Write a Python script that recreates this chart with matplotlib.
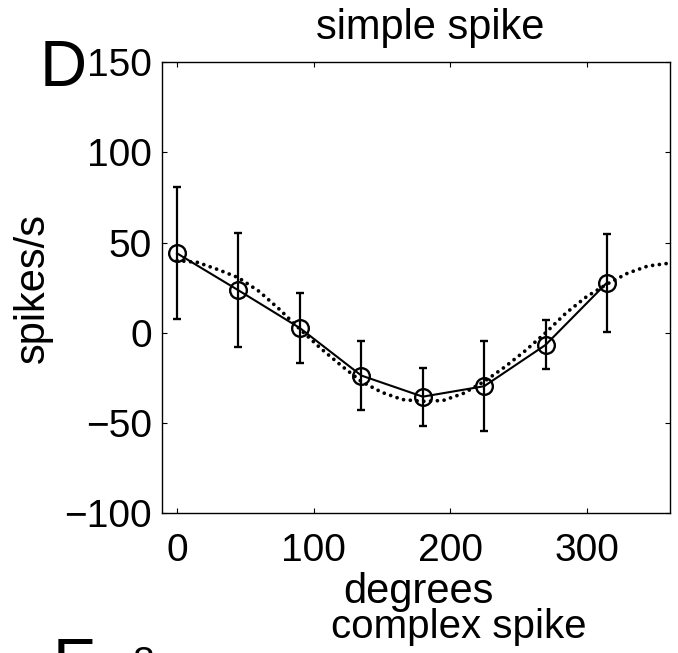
import matplotlib
matplotlib.use("Agg")
import matplotlib.pyplot as plt

plt.rcParams["font.family"] = ["Liberation Sans", "DejaVu Sans"]

# measured simple spike response (mean +/- error) at each direction
angles = [0, 45, 90, 135, 180, 225, 270, 315]
rates = [44, 23.5, 2.6, -23.7, -35.4, -29.6, -6.7, 27.8]
errors = [36.5, 31.6, 19.3, 19.2, 16.0, 24.8, 13.5, 27.1]

# cosine fit, every 15 degrees
fit_angles = [0, 15, 30, 45, 60, 75, 90, 105, 120, 135, 150, 165, 180,
              195, 210, 225, 240, 255, 270, 285, 300, 315, 330, 345, 360]
fit_rates = [40, 39, 35, 30.5, 23, 13, 2, -8.5, -18, -27, -33, -37, -38,
             -37.5, -33.5, -27, -19, -10, 0, 11, 20, 27, 33, 37, 38.5]

xticks = [0, 100, 200, 300]
yticks = [-100, -50, 0, 50, 100, 150]

fig = plt.figure(figsize=(6.78, 6.53), dpi=100)
ax = fig.add_axes([0.239, 0.214, 0.749, 0.691])

ax.plot(fit_angles, fit_rates, color="black", lw=2.7,
        linestyle=(0, (0.01, 1.8)), dash_capstyle="round")
ax.errorbar(angles, rates, yerr=errors, color="black", lw=1.5,
            elinewidth=1.6, capsize=3, capthick=1.6,
            marker="o", ms=12, mfc="none", mec="black", mew=1.7)

ax.set_xlim(-11, 361)
ax.set_ylim(-100, 150)
ax.set_xticks(xticks)
ax.set_yticks(yticks)
ax.tick_params(direction="in", top=True, right=True, length=3.6, width=0.8,
               labelsize=28)
ax.tick_params(axis="x", pad=14)
ax.tick_params(axis="y", pad=7.4)
for sp in ax.spines.values():
    sp.set_linewidth(1.0)

ax.set_title("simple spike", fontsize=30, x=0.528, pad=16.5)
ax.set_xlabel("degrees", fontsize=30)
ax.xaxis.set_label_coords(0.504, -0.130)
ax.set_ylabel("spikes/s", fontsize=30)
ax.yaxis.set_label_coords(-0.2146, 0.5)

# panel letters and the start of the next panel (cut off at the bottom)
fig.text(0.058, 0.868, "D", fontsize=47, va="baseline")
fig.text(0.676, 0.023, "complex spike", fontsize=29, ha="center", va="baseline")
fig.text(0.078, -0.047, "E", fontsize=47, va="baseline")
fig.text(0.195, -0.032, "8", fontsize=28, va="baseline")

fig.savefig("out.png", dpi=100)
